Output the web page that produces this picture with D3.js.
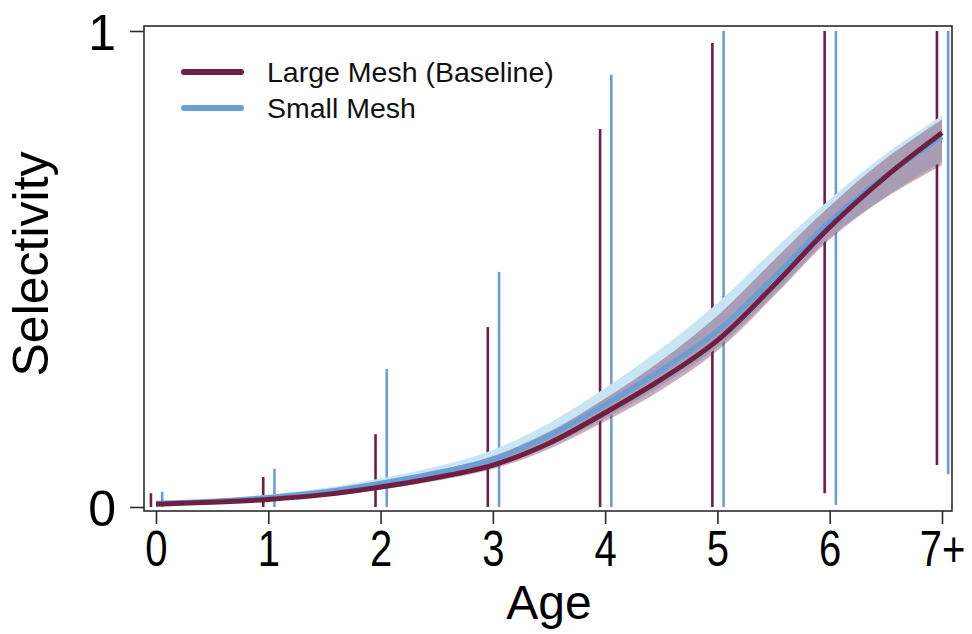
<!DOCTYPE html>
<html>
<head>
<meta charset="utf-8">
<script src="https://cdn.jsdelivr.net/npm/d3@7"></script>
<style>
  body { margin: 0; background: #fff; }
  svg { display: block; }
</style>
</head>
<body>
<script>
// ages and tick labels
const ages = [0, 0.5, 1, 1.5, 2, 2.5, 3, 3.5, 4, 4.5, 5, 5.5, 6, 6.5, 7]
const tickAges = [0, 1, 2, 3, 4, 5, 6, 7]
const tickLabels = ['0', '1', '2', '3', '4', '5', '6', '7+']

// fitted selectivity curves
const largeMesh = [0.006, 0.010, 0.016, 0.026, 0.042, 0.062, 0.088, 0.134, 0.198, 0.268, 0.350, 0.465, 0.588, 0.694, 0.786]
const largeLow  = [0.004, 0.008, 0.013, 0.022, 0.036, 0.055, 0.080, 0.122, 0.180, 0.246, 0.328, 0.442, 0.562, 0.650, 0.718]
const largeHigh = [0.009, 0.014, 0.022, 0.034, 0.053, 0.076, 0.107, 0.158, 0.228, 0.308, 0.402, 0.518, 0.632, 0.732, 0.814]

const smallMesh = [0.008, 0.012, 0.020, 0.032, 0.050, 0.072, 0.100, 0.150, 0.215, 0.288, 0.370, 0.482, 0.600, 0.696, 0.778]
const smallLow  = [0.005, 0.009, 0.015, 0.025, 0.040, 0.059, 0.085, 0.128, 0.186, 0.254, 0.335, 0.446, 0.566, 0.652, 0.726]
const smallHigh = [0.010, 0.016, 0.026, 0.040, 0.060, 0.085, 0.120, 0.176, 0.250, 0.333, 0.428, 0.540, 0.646, 0.742, 0.822]

// observed proportions range per age (bottom, top)
const largeObsLow  = [0.000, 0.000, 0.000, 0.000, 0.000, 0.000, 0.029, 0.088]
const largeObsHigh = [0.029, 0.063, 0.153, 0.378, 0.794, 0.975, 1.000, 1.000]
const smallObsLow  = [0.000, 0.000, 0.000, 0.000, 0.000, 0.000, 0.004, 0.069]
const smallObsHigh = [0.032, 0.080, 0.290, 0.494, 0.908, 1.000, 1.000, 1.000]

const legendNames = ['Large Mesh (Baseline)', 'Small Mesh']

const maroon = '#6f1f42'
const blue = '#6a9fd6'
const lightBlue = '#c8e5f4'

const W = 972, H = 634
const svg = d3.select('body').append('svg')
  .attr('width', W)
  .attr('height', H)

const x = d3.scaleLinear().domain([0, 7]).range([156, 942])
const y = d3.scaleLinear().domain([0, 1]).range([507, 31])

const frame = { left: 144, right: 952, top: 26, bottom: 511 }

// bands
const band = (lo, hi) => d3.area()
  .x((d, i) => x(ages[i]))
  .y0((d, i) => y(lo[i]))
  .y1((d, i) => y(hi[i]))
  .curve(d3.curveCatmullRom)(ages)

const line = vals => d3.line()
  .x((d, i) => x(ages[i]))
  .y((d, i) => y(vals[i]))
  .curve(d3.curveCatmullRom)(ages)

// observation ranges
const obs = svg.append('g')
obs.selectAll('line.large')
  .data(tickAges)
  .enter().append('line')
  .attr('x1', (d, i) => x(d - 0.045))
  .attr('x2', (d, i) => x(d - 0.045))
  .attr('y1', (d, i) => y(largeObsLow[i]))
  .attr('y2', (d, i) => y(largeObsHigh[i]))
  .style('stroke', maroon)
  .style('stroke-width', 2.6)
obs.selectAll('line.small')
  .data(tickAges)
  .enter().append('line')
  .attr('x1', (d, i) => x(d + 0.055))
  .attr('x2', (d, i) => x(d + 0.055))
  .attr('y1', (d, i) => y(smallObsLow[i]))
  .attr('y2', (d, i) => y(smallObsHigh[i]))
  .style('stroke', blue)
  .style('stroke-width', 2.6)

svg.append('path')
  .attr('d', band(smallLow, smallHigh))
  .style('fill', lightBlue)
svg.append('path')
  .attr('d', band(largeLow, largeHigh))
  .style('fill', maroon)
  .style('fill-opacity', 0.36)

svg.append('path')
  .attr('d', line(smallMesh))
  .style('fill', 'none')
  .style('stroke', blue)
  .style('stroke-width', 5)
svg.append('path')
  .attr('d', line(largeMesh))
  .style('fill', 'none')
  .style('stroke', maroon)
  .style('stroke-width', 5)

// frame
svg.append('rect')
  .attr('x', frame.left)
  .attr('y', frame.top)
  .attr('width', frame.right - frame.left)
  .attr('height', frame.bottom - frame.top)
  .style('fill', 'none')
  .style('stroke', '#2b2b2b')
  .style('stroke-width', 1.6)

// x axis
const xAxis = d3.axisBottom(x)
  .tickValues(tickAges)
  .tickFormat((d, i) => tickLabels[i])
  .tickSize(13)
svg.append('g')
  .attr('transform', `translate(0,${frame.bottom})`)
  .call(xAxis)
  .call(g => g.select('.domain').remove())
  .call(g => g.selectAll('.tick line').style('stroke', '#2b2b2b').style('stroke-width', 1.6))
  .call(g => g.selectAll('.tick text')
    .attr('y', 55)
    .attr('dy', null)
    .attr('transform', 'scale(0.8,1)')
    .style('font-family', '"Liberation Sans", Arial, sans-serif')
    .style('font-size', '50px')
    .style('fill', '#000'))

// y axis
const yAxis = d3.axisLeft(y)
  .tickValues([0, 1])
  .tickFormat(d3.format('d'))
  .tickSize(14)
svg.append('g')
  .attr('transform', `translate(${frame.left},0)`)
  .call(yAxis)
  .call(g => g.select('.domain').remove())
  .call(g => g.selectAll('.tick line').style('stroke', '#2b2b2b').style('stroke-width', 1.6))
  .call(g => g.selectAll('.tick text')
    .attr('x', -28)
    .attr('dy', '0.36em')
    .style('font-family', '"Liberation Sans", Arial, sans-serif')
    .style('font-size', '50px')
    .style('fill', '#000'))

// axis titles
svg.append('text')
  .attr('x', 549)
  .attr('y', 619)
  .attr('text-anchor', 'middle')
  .style('font-family', '"Liberation Sans", Arial, sans-serif')
  .style('font-size', '48px')
  .text('Age')

svg.append('text')
  .attr('transform', 'translate(48,264) rotate(-90)')
  .attr('text-anchor', 'middle')
  .style('font-family', '"Liberation Sans", Arial, sans-serif')
  .style('font-size', '50px')
  .text('Selectivity')

// legend
const legend = svg.append('g')
legend.selectAll('line')
  .data(legendNames)
  .enter().append('line')
  .attr('x1', 184)
  .attr('x2', 241)
  .attr('y1', (d, i) => 72 + i * 36)
  .attr('y2', (d, i) => 72 + i * 36)
  .style('stroke', (d, i) => i === 0 ? maroon : blue)
  .style('stroke-width', 6)
  .style('stroke-linecap', 'round')
legend.selectAll('text')
  .data(legendNames)
  .enter().append('text')
  .attr('x', 267)
  .attr('y', (d, i) => 82 + i * 36)
  .style('font-family', '"Liberation Sans", Arial, sans-serif')
  .style('font-size', '28.5px')
  .style('fill', '#111')
  .text(d => d)
</script>
</body>
</html>
